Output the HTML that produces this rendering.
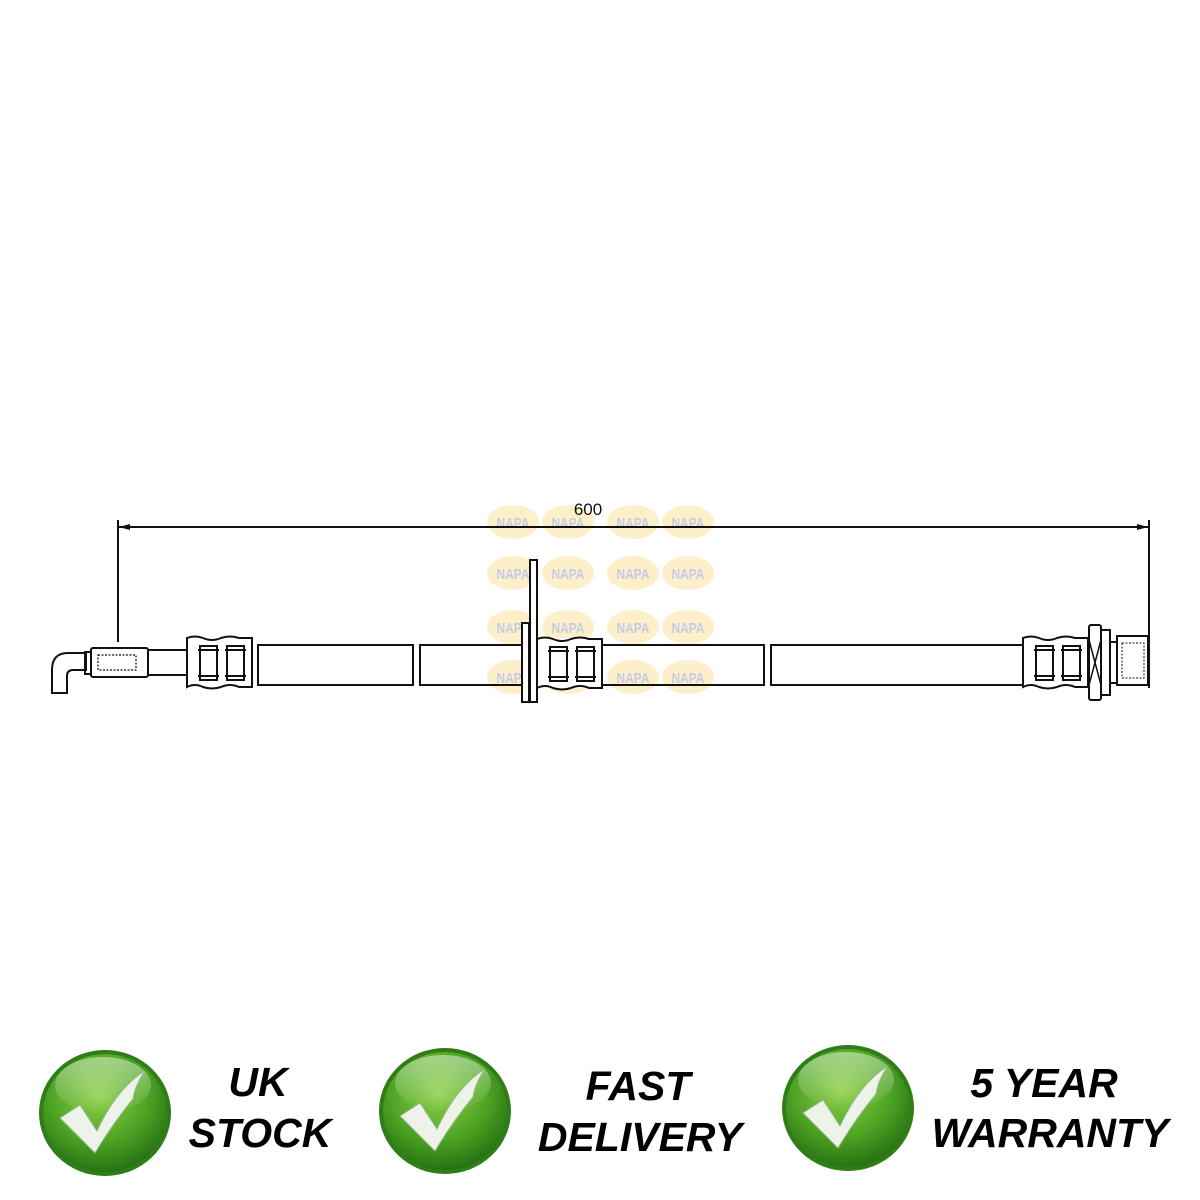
<!DOCTYPE html>
<html><head><meta charset="utf-8"><style>
html,body{margin:0;padding:0;background:#fff;}
svg{display:block}
.t{font-family:"Liberation Sans",sans-serif;font-weight:bold;font-style:italic;font-size:41px;fill:#000;text-anchor:middle}
</style></head><body>
<svg width="1200" height="1200" viewBox="0 0 1200 1200" xmlns="http://www.w3.org/2000/svg">
<defs>
<radialGradient id="g" cx="0.45" cy="0.35" r="0.7">
<stop offset="0" stop-color="#8fd14a"/><stop offset="0.55" stop-color="#4fa524"/><stop offset="1" stop-color="#1f6a10"/>
</radialGradient>
<linearGradient id="hl" x1="0" y1="0" x2="0" y2="1">
<stop offset="0" stop-color="#fff" stop-opacity="0.45"/><stop offset="1" stop-color="#fff" stop-opacity="0"/>
</linearGradient>
<g id="badge">
<ellipse cx="0" cy="0" rx="66" ry="63" fill="#2e7d17"/>
<ellipse cx="0" cy="0" rx="62" ry="59" fill="url(#g)"/>
<ellipse cx="-2" cy="-28" rx="48" ry="28" fill="url(#hl)"/>
<path d="M-45,5 L-25,-8 L-8,18 Q12,-25 40,-42 Q30,-28 28,-14 Q8,10 -10,40 Z" fill="#eef3ea" stroke="#9ab889" stroke-width="1"/>
</g>
<g id="napa" opacity="0.28">
<ellipse cx="0" cy="0" rx="26" ry="17" fill="#f5c842"/>
<text x="0" y="6" font-family="Liberation Sans,sans-serif" font-weight="bold" font-size="15" fill="#3047a0" text-anchor="middle" transform="scale(0.8,1)">NAPA</text>
</g>
<g id="crimp">
<path d="M0,0 Q8,-3 16,0 Q25,4 34,0 Q43,-3 52,0 L65,0 L65,49 L52,49 Q43,45 34,49 Q25,52 16,49 Q8,45 0,49 Z" fill="none" stroke="#111" stroke-width="2"/>
<rect x="13" y="8" width="17" height="34" fill="none" stroke="#111" stroke-width="2"/>
<rect x="40" y="8" width="17" height="34" fill="none" stroke="#111" stroke-width="2"/>
<line x1="11" y1="12" x2="32" y2="12" stroke="#111" stroke-width="2"/>
<line x1="11" y1="38" x2="32" y2="38" stroke="#111" stroke-width="2"/>
<line x1="38" y1="12" x2="59" y2="12" stroke="#111" stroke-width="2"/>
<line x1="38" y1="38" x2="59" y2="38" stroke="#111" stroke-width="2"/>
</g>
</defs>

<g>
<use href="#napa" x="513" y="522"/><use href="#napa" x="568" y="522"/><use href="#napa" x="633" y="522"/><use href="#napa" x="688" y="522"/>
<use href="#napa" x="513" y="573"/><use href="#napa" x="568" y="573"/><use href="#napa" x="633" y="573"/><use href="#napa" x="688" y="573"/>
<use href="#napa" x="513" y="627"/><use href="#napa" x="568" y="627"/><use href="#napa" x="633" y="627"/><use href="#napa" x="688" y="627"/>
<use href="#napa" x="513" y="677"/><use href="#napa" x="568" y="677"/><use href="#napa" x="633" y="677"/><use href="#napa" x="688" y="677"/>
</g>

<g stroke="#111" stroke-width="2" fill="none">
<line x1="118" y1="520" x2="118" y2="642"/>
<line x1="1149" y1="520" x2="1149" y2="688"/>
<line x1="118" y1="527" x2="1149" y2="527"/>
</g>
<path d="M119,527 L130,524 L130,530 Z" fill="#111"/>
<path d="M1148,527 L1137,524 L1137,530 Z" fill="#111"/>
<text x="588" y="515" font-family="Liberation Sans,sans-serif" font-size="17" fill="#111" text-anchor="middle">600</text>

<g stroke="#111" stroke-width="2" fill="none">
<path d="M86,653 L68,653 Q52,653 52,670 L52,693 L67,693 L67,676 Q67,670 73,670 L86,670 Z"/>
<rect x="85" y="652" width="6" height="22"/>
<rect x="91" y="648" width="57" height="29" rx="2"/>
<rect x="98" y="655" width="38" height="15" stroke-dasharray="2,1.5" stroke-width="1.2"/>
<rect x="148" y="650" width="39" height="25"/>
<rect x="258" y="645" width="155" height="40"/>
<rect x="420" y="645" width="344" height="40"/>
<rect x="771" y="645" width="252" height="40"/>
</g>
<use href="#crimp" x="187" y="638"/>
<g stroke="#111" stroke-width="2" fill="#fff">
<rect x="537" y="638" width="65" height="50" stroke="none"/>
<rect x="522" y="623" width="7" height="79"/>
<rect x="530" y="560" width="7" height="142"/>
</g>
<use href="#crimp" x="537" y="639"/>
<g stroke="#111" stroke-width="2" fill="#fff">
<rect x="1023" y="637" width="65" height="51" stroke="none"/>
</g>
<use href="#crimp" x="1023" y="638"/>
<g stroke="#111" stroke-width="2" fill="#fff">
<rect x="1089" y="625" width="12" height="75" rx="2"/>
<line x1="1089" y1="640" x2="1101" y2="685" stroke-width="1.5"/>
<line x1="1101" y1="640" x2="1089" y2="685" stroke-width="1.5"/>
<rect x="1101" y="630" width="9" height="65"/>
<rect x="1110" y="642" width="7" height="41"/>
<rect x="1117" y="636" width="31" height="49"/>
<rect x="1122" y="643" width="22" height="35" fill="none" stroke-dasharray="2,1.5" stroke-width="1"/>
</g>

<use href="#badge" x="105" y="1113"/>
<use href="#badge" x="445" y="1111"/>
<use href="#badge" x="848" y="1108"/>
<text class="t" x="258" y="1096">UK</text>
<text class="t" x="260" y="1147">STOCK</text>
<text class="t" x="638" y="1100">FAST</text>
<text class="t" x="640" y="1151">DELIVERY</text>
<text class="t" x="1044" y="1097">5 YEAR</text>
<text class="t" x="1050" y="1147">WARRANTY</text>
</svg>
</body></html>
